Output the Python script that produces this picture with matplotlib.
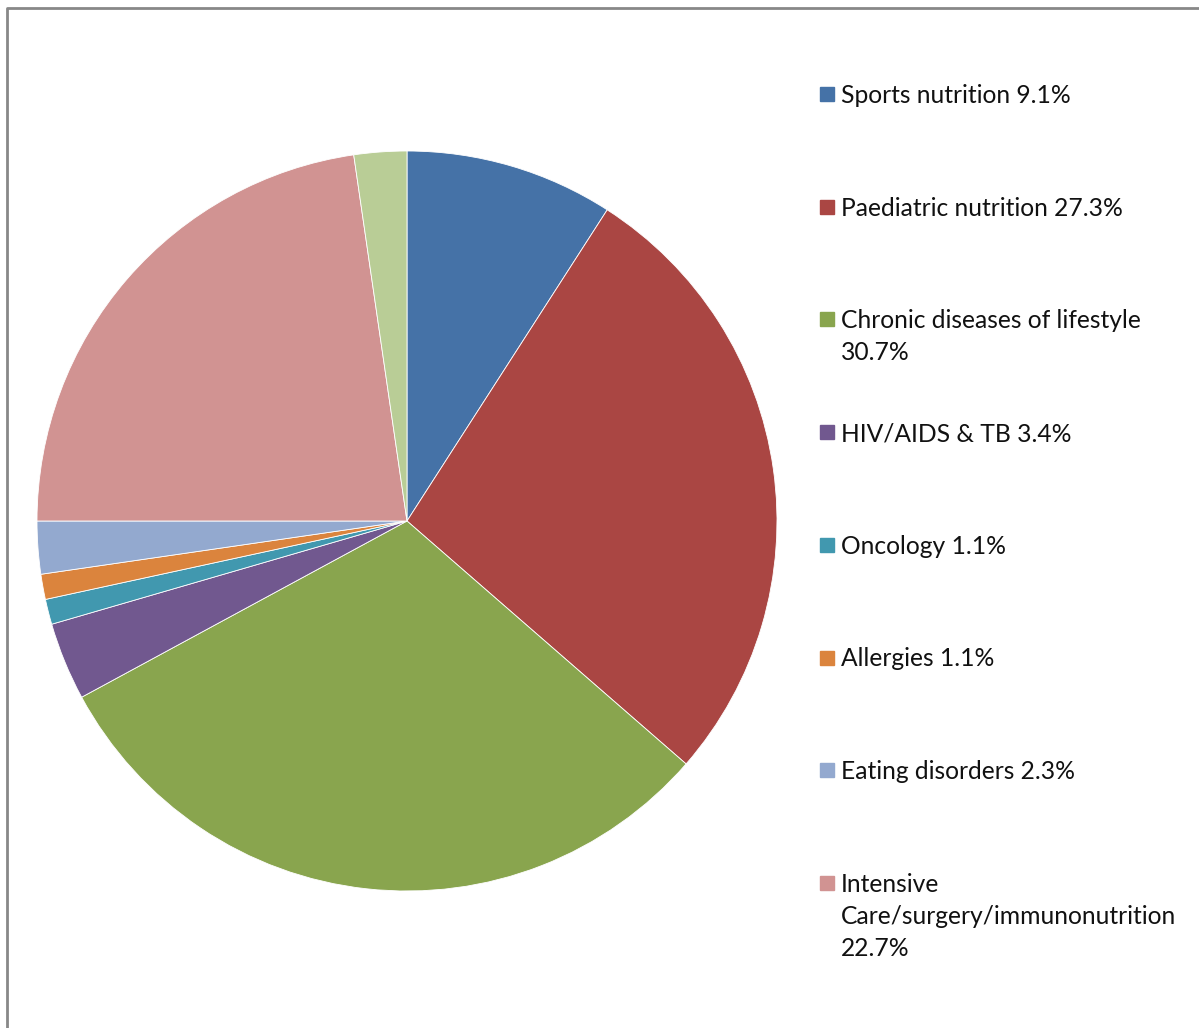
import matplotlib.pyplot as plt
from matplotlib.patches import Rectangle
from matplotlib.lines import Line2D

# Data for the chart
categories = [
    "Sports nutrition",
    "Paediatric nutrition",
    "Chronic diseases of lifestyle",
    "HIV/AIDS & TB",
    "Oncology",
    "Allergies",
    "Eating disorders",
    "Intensive Care/surgery/immunonutrition",
    "Other",
]
shares = [9.1, 27.3, 30.7, 3.4, 1.1, 1.1, 2.3, 22.7, 2.3]
legend_texts = [
    "Sports nutrition 9.1%",
    "Paediatric nutrition 27.3%",
    "Chronic diseases of lifestyle\n30.7%",
    "HIV/AIDS & TB 3.4%",
    "Oncology 1.1%",
    "Allergies 1.1%",
    "Eating disorders 2.3%",
    "Intensive\nCare/surgery/immunonutrition\n22.7%",
]
colors = ['#4572A7', '#AA4643', '#89A54E', '#71588F', '#4198AF',
          '#DB843D', '#93A9CF', '#D19392', '#B9CD96']

W, H = 1199, 1028
fig = plt.figure(figsize=(W / 100, H / 100), dpi=100)

# pie centred at (407, 521) px, radius 370 px
cx, cy, r = 407, 521, 370
ax = fig.add_axes([(cx - r) / W, (H - cy - r) / H, 2 * r / W, 2 * r / H])
ax.pie(shares, colors=colors, startangle=90, counterclock=False,
       wedgeprops=dict(edgecolor='white', linewidth=0.6))
ax.set_xlim(-1, 1)
ax.set_ylim(-1, 1)
ax.set_aspect('equal')
ax.axis('off')

# legend drawn by hand, one text line at a time
y0, step = 94, 112.7
for i, txt in enumerate(legend_texts):
    y = y0 + i * step
    fig.patches.append(Rectangle((820 / W, (H - y - 7) / H), 14 / W, 14 / H,
                                 transform=fig.transFigure, color=colors[i]))
    for j, line in enumerate(txt.split('\n')):
        base = y + 9 + j * 32
        fig.text(841 / W, (H - base) / H, line, fontsize=17.7, family='Lato',
                 va='baseline', ha='left', color='#111111')

# chart frame (left and top edges visible)
fig.lines.append(Line2D([7 / W, 7 / W, 1.0], [0.0, (H - 8) / H, (H - 8) / H],
                        transform=fig.transFigure, color='#888888', linewidth=2))

fig.savefig('out.png', dpi=100)
